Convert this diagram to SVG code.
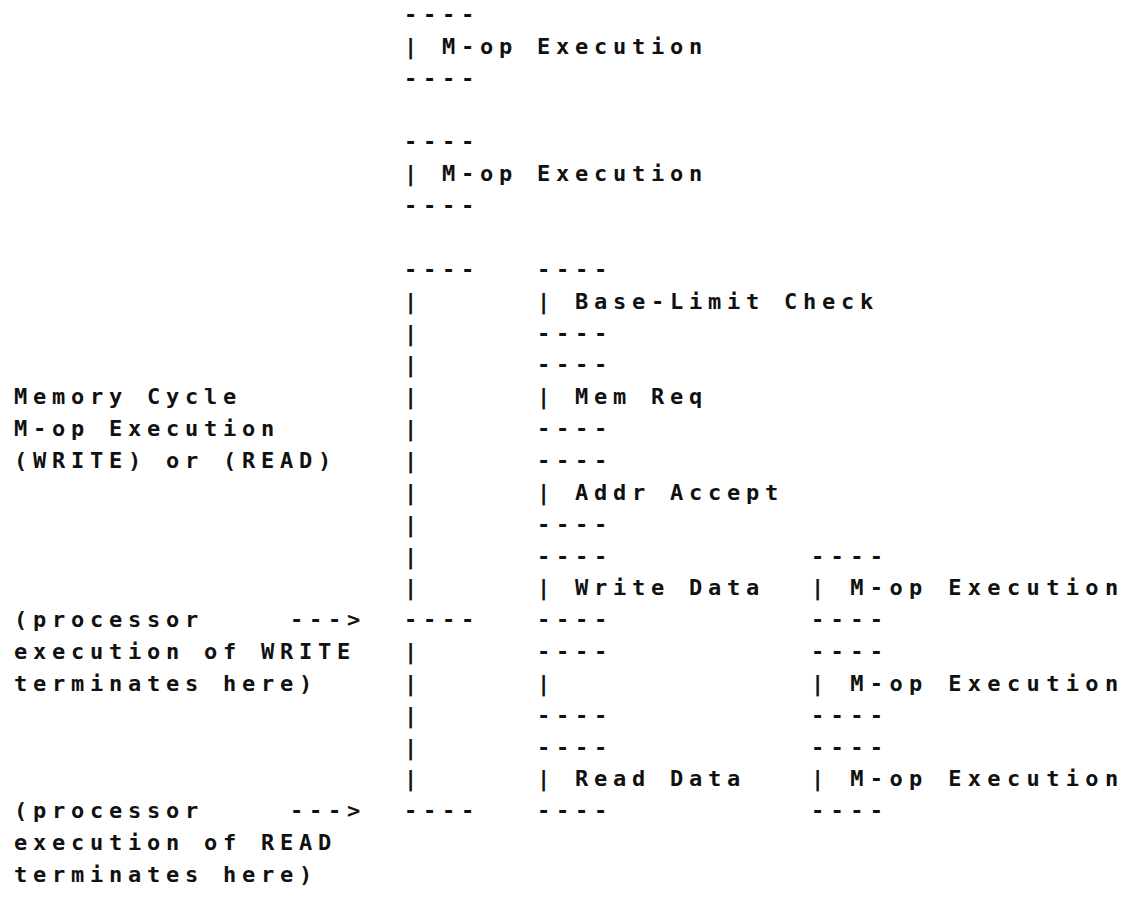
<svg xmlns="http://www.w3.org/2000/svg" width="1144" height="898" viewBox="0 0 1144 898">
  <style>
    .t { font-family: "DejaVu Sans Mono", "Liberation Mono", monospace; font-size: 22px; font-weight: bold; letter-spacing: 5.75px; fill: #111; }
    .wide { letter-spacing: 6.35px; }
  </style>
  <rect width="1144" height="898" fill="#fff"/>

  <!-- processor M-op executions before the memory cycle -->
  <g id="mop-1" class="t">
    <text x="404" y="22">----</text>
    <text x="404" y="53.9">| M-op Execution</text>
    <text x="404" y="85.7">----</text>
  </g>
  <g id="mop-2" class="t">
    <text x="404" y="149.4">----</text>
    <text x="404" y="181.3">| M-op Execution</text>
    <text x="404" y="213.1">----</text>
  </g>

  <!-- memory cycle bracket -->
  <g id="memory-cycle" class="t">
    <text x="404" y="276.8">----</text>
    <text x="404" y="308.7">|</text>
    <text x="404" y="340.5">|</text>
    <text x="404" y="372.4">|</text>
    <text x="404" y="404.2">|</text>
    <text x="404" y="436.1">|</text>
    <text x="404" y="467.9">|</text>
    <text x="404" y="499.8">|</text>
    <text x="404" y="531.6">|</text>
    <text x="404" y="563.5">|</text>
    <text x="404" y="595.3">|</text>
    <text x="404" y="627.2">----</text>
    <text x="404" y="659">|</text>
    <text x="404" y="690.9">|</text>
    <text x="404" y="722.7">|</text>
    <text x="404" y="754.6">|</text>
    <text x="404" y="786.4">|</text>
    <text x="404" y="818.3">----</text>
  </g>

  <!-- memory cycle steps -->
  <g id="base-limit-check" class="t">
    <text x="537" y="276.8">----</text>
    <text x="537" y="308.7">| Base-Limit Check</text>
    <text x="537" y="340.5">----</text>
  </g>
  <g id="mem-req" class="t">
    <text x="537" y="372.4">----</text>
    <text x="537" y="404.2">| Mem Req</text>
    <text x="537" y="436.1">----</text>
  </g>
  <g id="addr-accept" class="t">
    <text x="537" y="467.9">----</text>
    <text x="537" y="499.8">| Addr Accept</text>
    <text x="537" y="531.6">----</text>
  </g>
  <g id="write-data" class="t">
    <text x="537" y="563.5">----</text>
    <text x="537" y="595.3">| Write Data</text>
    <text x="537" y="627.2">----</text>
  </g>
  <g id="idle-step" class="t">
    <text x="537" y="659">----</text>
    <text x="537" y="690.9">|</text>
    <text x="537" y="722.7">----</text>
  </g>
  <g id="read-data" class="t">
    <text x="537" y="754.6">----</text>
    <text x="537" y="786.4">| Read Data</text>
    <text x="537" y="818.3">----</text>
  </g>

  <!-- overlapping processor M-op executions -->
  <g id="mop-3" class="t wide">
    <text x="811" y="563.5">----</text>
    <text x="811" y="595.3">| M-op Execution</text>
    <text x="811" y="627.2">----</text>
  </g>
  <g id="mop-4" class="t wide">
    <text x="811" y="659">----</text>
    <text x="811" y="690.9">| M-op Execution</text>
    <text x="811" y="722.7">----</text>
  </g>
  <g id="mop-5" class="t wide">
    <text x="811" y="754.6">----</text>
    <text x="811" y="786.4">| M-op Execution</text>
    <text x="811" y="818.3">----</text>
  </g>

  <!-- annotations -->
  <g id="label-memory-cycle" class="t">
    <text x="14" y="404.2">Memory Cycle</text>
    <text x="14" y="436.1">M-op Execution</text>
    <text x="14" y="467.9">(WRITE) or (READ)</text>
  </g>
  <g id="label-write-end" class="t">
    <text x="14" y="627.2">(processor</text>
    <text x="14" y="659">execution of WRITE</text>
    <text x="14" y="690.9">terminates here)</text>
  </g>
  <g id="label-read-end" class="t">
    <text x="14" y="818.3">(processor</text>
    <text x="14" y="850.1">execution of READ</text>
    <text x="14" y="882">terminates here)</text>
  </g>

  <!-- pointers from annotations to the bracket ends -->
  <g id="connectors" class="t">
    <text x="290" y="627.2">---&gt;</text>
    <text x="290" y="818.3">---&gt;</text>
  </g>
</svg>
